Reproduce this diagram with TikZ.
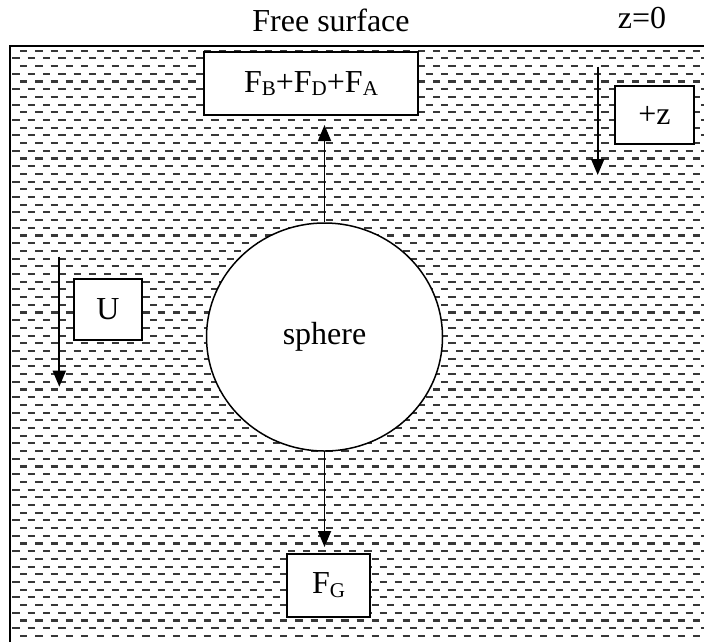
\documentclass[tikz,border=0pt]{standalone}
\usepackage{fontspec}
\setmainfont{Liberation Serif}
\usetikzlibrary{arrows.meta,shapes.geometric}
\newcommand\sbx[1]{\raisebox{-0.12em}{\fontsize{10.5}{11}\selectfont #1}}
\begin{document}
\begin{tikzpicture}[x=0.5pt,y=-0.5pt,
  font=\fontsize{16}{19}\selectfont,
  lblbox/.style={draw, line width=1pt, fill=white, inner sep=0pt},
  arr/.style={line width=0.9pt, -{Triangle[length=8pt,width=6.5pt]}},
  water/.style={line width=1.05pt, draw=black!78, dash pattern=on 3.6pt off 4.05pt}]
\useasboundingbox (0,0) rectangle (704,642);
% water hatching
\begin{scope}
  \clip (10,46) rectangle (704,642);
  \foreach \i in {0,...,76}{
    \pgfmathsetmacro{\yy}{50.7+7.7*\i}
    \pgfmathsetmacro{\xs}{ifthenelse(mod(\i,2)==0,20,12.4)}
    \draw[water] (\xs,\yy) -- (720,\yy);
  }
\end{scope}
% free surface border
\draw[line width=1pt] (10,642) -- (10,46) -- (704,46);
% texts
\node[anchor=base] (fs) at (331,31.7) {Free surface};
\node[anchor=base] (z0) at (642,29) {z=0};
% boxes
\node[lblbox, minimum width=107pt, minimum height=31.5pt] (fsum) at (311,83.5)
  {F\sbx{B}+F\sbx{D}+F\sbx{A}};
\node[lblbox, ellipse, line width=0.75pt, minimum width=118pt, minimum height=114pt] (sphere) at (324.5,337)
  {\raisebox{-2.5pt}{sphere}};
\node[lblbox, minimum width=41.5pt, minimum height=31.5pt] (fg) at (328.5,585.5) {F\sbx{G}};
\node[lblbox, minimum width=39.5pt, minimum height=29pt] (pz) at (654.5,115) {+z};
\node[lblbox, minimum width=34pt, minimum height=30.5pt] (u) at (108,309.5) {U};
% arrows
\draw[arr, shorten >=4.5pt] (sphere.north) -- (sphere.north |- fsum.south);
\draw[arr, shorten >=3pt] (sphere.south) -- (sphere.south |- fg.north);
\coordinate (za) at (597.7,66.7);
\coordinate (zb) at (597.7,175);
\draw[arr] (za) -- (zb);
\coordinate (ua) at (59.3,256.7);
\coordinate (ub) at (59.3,386.7);
\draw[arr] (ua) -- (ub);
\end{tikzpicture}
\end{document}
